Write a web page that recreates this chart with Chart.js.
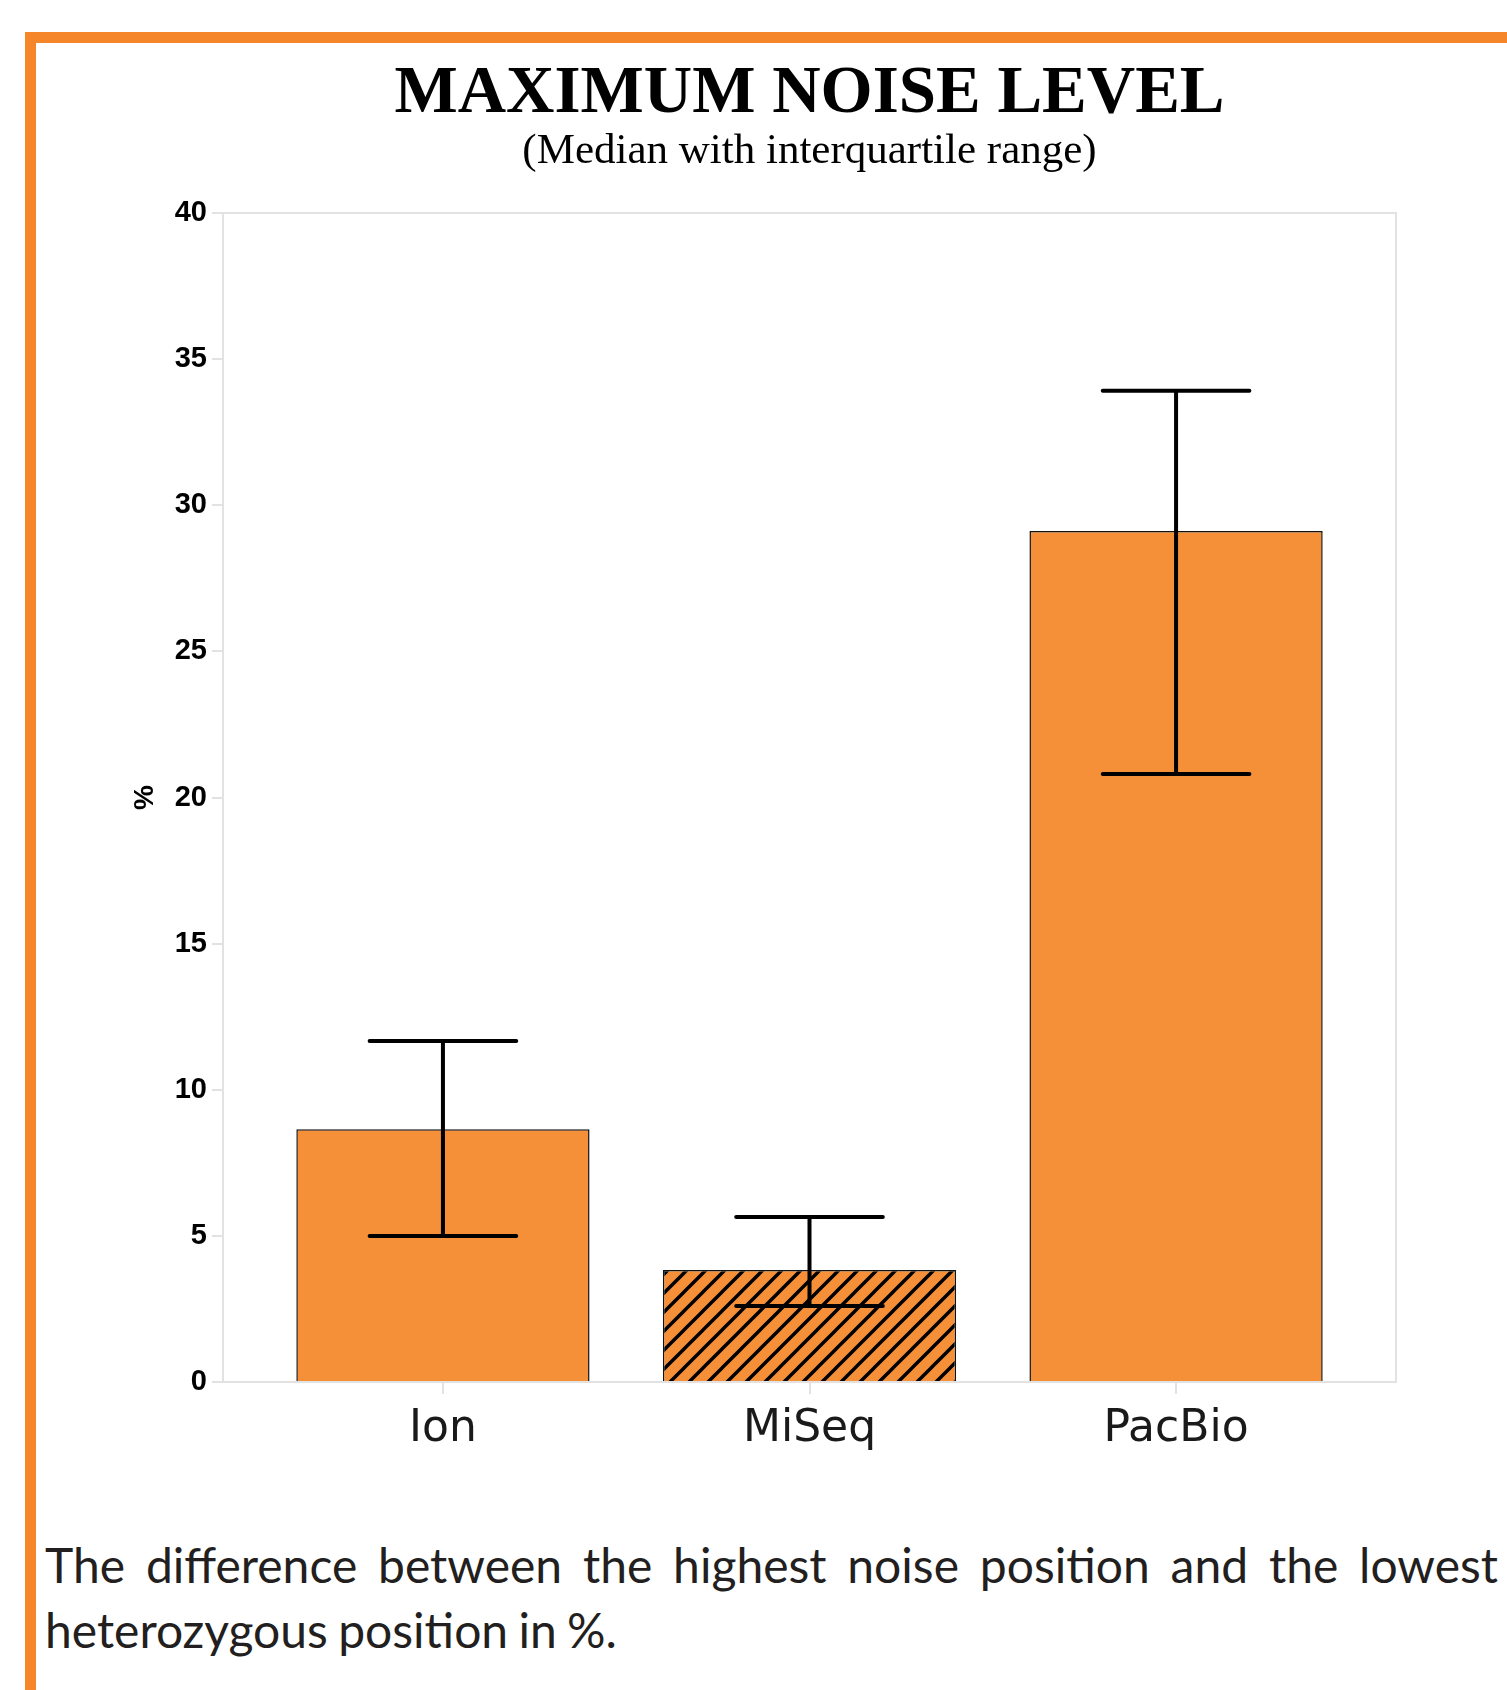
<!DOCTYPE html>
<html>
<head>
<meta charset="utf-8">
<script src="https://cdn.jsdelivr.net/npm/chart.js@4.4.1/dist/chart.umd.min.js"></script>
<style>
  html, body { margin: 0; padding: 0; background: #fff; }
  body { width: 1507px; height: 1690px; position: relative; overflow: hidden; }
  #frame {
    position: absolute; left: 25px; top: 32px; right: 0; bottom: 0;
    border-top: 11px solid #f5872a; border-left: 11px solid #f5872a;
  }
  #chartBox { position: absolute; left: 0; top: 0; width: 1507px; height: 1480px; }
  .title {
    position: absolute; left: 223px; width: 1173px; text-align: center;
    font-family: "Liberation Serif", serif; color: #000; white-space: nowrap;
  }
  #mainTitle { top: 56px; font-size: 67px; line-height: 67px; font-weight: bold; }
  #subTitle { top: 127px; font-size: 43px; line-height: 43px; }
  #caption {
    position: absolute; left: 45px; top: 1532px; width: 1453px;
    font-family: Lato, sans-serif; font-size: 48px; line-height: 65px; color: #231f20;
  }
  #caption .l1 { text-align: justify; text-align-last: justify; white-space: nowrap; }
  #caption .l2 { word-spacing: -2px; white-space: nowrap; }
</style>
</head>
<body>
<div id="frame"></div>
<div id="chartBox"><canvas id="noiseChart" width="1507" height="1480"></canvas></div>
<div class="title" id="mainTitle">MAXIMUM NOISE LEVEL</div>
<div class="title" id="subTitle">(Median with interquartile range)</div>
<div id="caption">
  <div class="l1">The difference between the highest noise position and the lowest</div>
  <div class="l2">heterozygous position in %.</div>
</div>
<script>
// valores (mediana e intervalo interquartil, em %)
const platforms = ['Ion', 'MiSeq', 'PacBio'];
const medians = [8.65, 3.83, 29.12];
const q1 = [5.0, 2.6, 20.8];
const q3 = [11.67, 5.65, 33.92];
const yTicks = [0, 5, 10, 15, 20, 25, 30, 35, 40];

const orange = '#f58f38';

// padrão hachurado para a barra do MiSeq
const makeHatch = () => {
    const size = 19;
    const c = document.createElement('canvas');
    c.width = size; c.height = size;
    const g = c.getContext('2d');
    g.fillStyle = orange;
    g.fillRect(0, 0, size, size);
    g.strokeStyle = '#000';
    g.lineWidth = 3.4;
    g.beginPath();
    g.moveTo(-2, size + 2); g.lineTo(size + 2, -2);
    g.moveTo(-2, 2); g.lineTo(2, -2);
    g.moveTo(size - 2, size + 2); g.lineTo(size + 2, size - 2);
    g.stroke();
    return g.createPattern(c, 'repeat');
};

// moldura cinza da área do gráfico
const plotFrame = {
    id: 'plotFrame',
    beforeDatasetsDraw(chart) {
        const { ctx, chartArea: a } = chart;
        ctx.save();
        ctx.strokeStyle = '#e2e2e2';
        ctx.lineWidth = 2;
        ctx.strokeRect(a.left, a.top, a.right - a.left, a.bottom - a.top);
        ctx.restore();
    }
};

// barras de erro (intervalo interquartil)
const errorBars = {
    id: 'errorBars',
    afterDatasetsDraw(chart) {
        const { ctx } = chart;
        const y = chart.scales.y;
        const meta = chart.getDatasetMeta(0);
        ctx.save();
        ctx.strokeStyle = '#000';
        ctx.lineWidth = 4;
        ctx.lineCap = 'round';
        meta.data.forEach((bar, i) => {
            const x = bar.x;
            const half = bar.width / 4;
            const top = y.getPixelForValue(q3[i]);
            const low = y.getPixelForValue(q1[i]);
            ctx.beginPath();
            ctx.moveTo(x, top); ctx.lineTo(x, low);
            ctx.moveTo(x - half, top); ctx.lineTo(x + half, top);
            ctx.moveTo(x - half, low); ctx.lineTo(x + half, low);
            ctx.stroke();
        });
        ctx.restore();
    }
};

const ctx = document.getElementById('noiseChart').getContext('2d');

new Chart(ctx, {
    type: 'bar',
    data: {
        datasets: [{
            data: medians.map((v, i) => ({ x: i, y: v })),
            backgroundColor: [orange, makeHatch(), orange],
            borderColor: '#111',
            borderWidth: 1.5,
            barPercentage: 0.8,
            categoryPercentage: 1.0
        }]
    },
    options: {
        responsive: false,
        animation: false,
        layout: { padding: { left: 0, top: 213, right: 111, bottom: 0 } },
        plugins: {
            legend: { display: false },
            tooltip: { enabled: false }
        },
        scales: {
            x: {
                type: 'linear',
                offset: false,
                min: -0.6,
                max: 2.6,
                afterBuildTicks: (scale) => { scale.ticks = platforms.map((p, i) => ({ value: i })); },
                grid: { offset: false, drawOnChartArea: false, drawTicks: true, tickLength: 12, color: '#e2e2e2', lineWidth: 2 },
                border: { color: '#e2e2e2', width: 2 },
                ticks: {
                    color: '#1a1a1a',
                    padding: 9,
                    font: { family: 'DejaVu Sans', size: 44 },
                    callback: (v) => platforms[v]
                },
                afterFit: (scale) => { scale.height = 98; }
            },
            y: {
                min: 0,
                max: 40,
                afterBuildTicks: (scale) => { scale.ticks = yTicks.map(v => ({ value: v })); },
                grid: { drawOnChartArea: false, drawTicks: true, tickLength: 11, color: '#e2e2e2', lineWidth: 2 },
                border: { color: '#e2e2e2', width: 2 },
                ticks: { color: '#000', padding: 5, font: { family: 'Liberation Sans', size: 29, weight: 'bold' } },
                title: {
                    display: true,
                    text: '%',
                    color: '#000',
                    padding: { top: 128, bottom: 0 },
                    font: { family: 'Liberation Sans', size: 28, weight: 'bold' }
                },
                afterFit: (scale) => { scale.width = 223; }
            }
        }
    },
    plugins: [plotFrame, errorBars]
});
</script>
</body>
</html>
